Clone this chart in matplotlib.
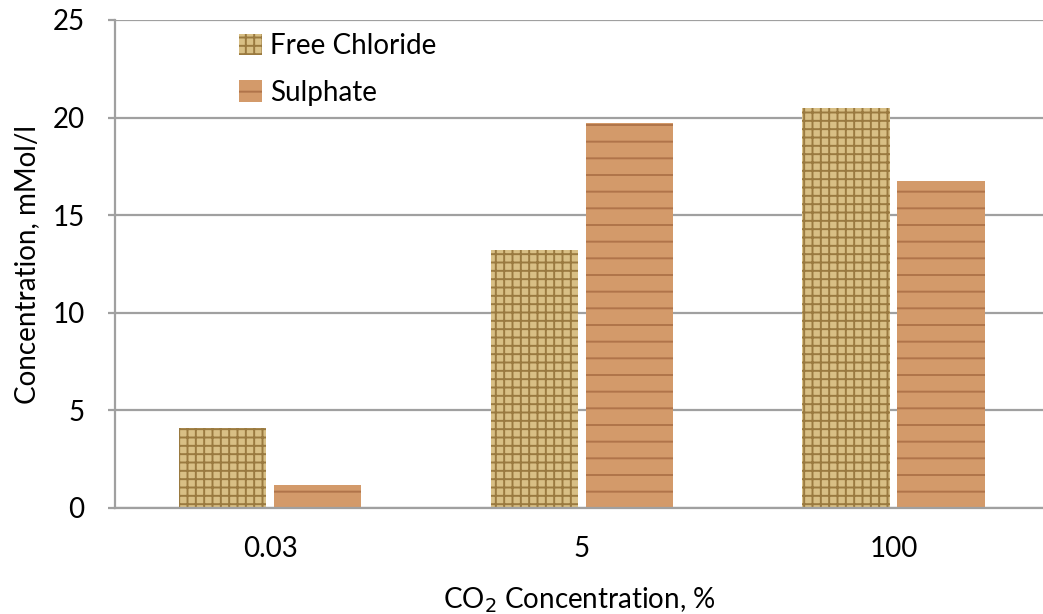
import numpy as np
import matplotlib
matplotlib.use('Agg')
import matplotlib.pyplot as plt

plt.rcParams['font.family'] = ['Lato', 'DejaVu Sans']

categories = ['0.03', '5', '100']
free_chloride = [4.1, 13.2, 20.5]
sulphate = [1.2, 19.7, 16.75]

fig = plt.figure(figsize=(10.43, 6.14), dpi=100)
ax = fig.add_axes([115 / 1043, 1 - 508 / 614, 1 - 115 / 1043, (508 - 20) / 614])

x = np.arange(len(categories))
w = 0.28
off = 0.1525

grid_col = '#a0a0a0'
ax.set_axisbelow(True)
ax.yaxis.grid(True, color=grid_col, linewidth=1.6)

plt.rcParams['hatch.linewidth'] = 1.4
b1 = ax.bar(x - off, free_chloride, w, facecolor='#d8bf85', edgecolor='#9a7a40',
            hatch='++', linewidth=0, label='Free Chloride')
b2 = ax.bar(x + off, sulphate, w, facecolor='#d39a6a', edgecolor='#b0744a',
            hatch='-', linewidth=0, label='Sulphate')

ax.set_xlim(-0.4976, 2.48)
ax.set_ylim(0, 25)
ax.set_yticks([0, 5, 10, 15, 20, 25])
ax.set_xticks(x)
ax.set_xticklabels(categories)
ax.tick_params(axis='both', labelsize=20, colors='black')
ax.tick_params(axis='y', length=5, color=grid_col, width=1.6, pad=17)
ax.tick_params(axis='x', length=0, pad=20)

for s in ['top', 'right']:
    ax.spines[s].set_visible(False)
for s in ['left', 'bottom']:
    ax.spines[s].set_color(grid_col)
    ax.spines[s].set_linewidth(1.6)

ax.set_ylabel('Concentration, mMol/l', fontsize=20, labelpad=9)
ax.set_xlabel('CO$_2$ Concentration, %', fontsize=20, labelpad=17)

ax.legend(loc='upper left', bbox_to_anchor=(0.107, 1.025), frameon=False, fontsize=20,
          handlelength=0.8, handleheight=0.8, handletextpad=0.3, labelspacing=0.75)

fig.savefig('out.png', dpi=100)
